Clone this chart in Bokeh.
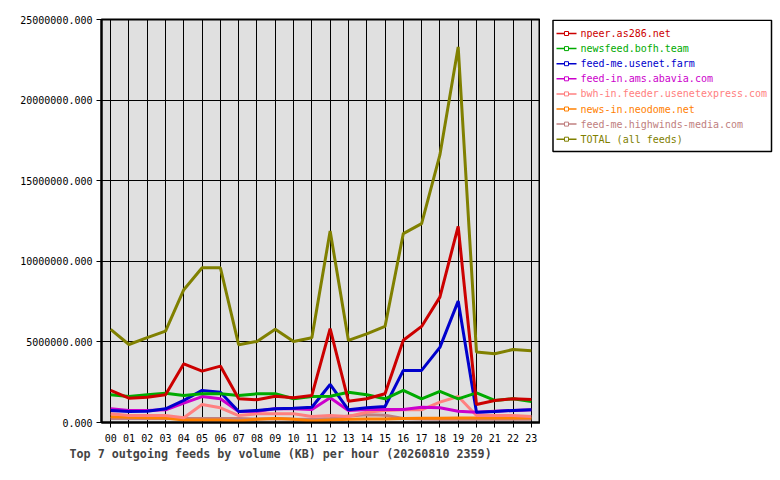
from bokeh.plotting import figure
from bokeh.layouts import row
from bokeh.models import Range1d, FixedTicker, PrintfTickFormatter, ColumnDataSource
from bokeh.core.properties import value
from bokeh.embed import file_html
from bokeh.resources import INLINE

hours = list(range(24))
hour_labels = ["%02d" % h for h in hours]

# values in KB per hour
npeer = [1.99e6, 1.51e6, 1.57e6, 1.72e6, 3.64e6, 3.19e6, 3.5e6, 1.47e6, 1.41e6, 1.63e6, 1.53e6, 1.68e6,
         5.82e6, 1.32e6, 1.47e6, 1.78e6, 5.1e6, 5.96e6, 7.78e6, 12.17e6, 1.12e6, 1.37e6, 1.47e6, 1.43e6]
newsfeed = [1.72e6, 1.61e6, 1.72e6, 1.82e6, 1.68e6, 1.78e6, 1.78e6, 1.68e6, 1.78e6, 1.78e6, 1.47e6, 1.61e6,
            1.63e6, 1.88e6, 1.72e6, 1.47e6, 1.99e6, 1.47e6, 1.93e6, 1.47e6, 1.84e6, 1.37e6, 1.47e6, 1.3e6]
usenet_farm = [0.75e6, 0.68e6, 0.7e6, 0.85e6, 1.37e6, 1.99e6, 1.88e6, 0.68e6, 0.75e6, 0.85e6, 0.89e6, 0.95e6,
               2.36e6, 0.79e6, 0.91e6, 0.99e6, 3.23e6, 3.23e6, 4.66e6, 7.53e6, 0.64e6, 0.68e6, 0.75e6, 0.79e6]
abavia = [0.85e6, 0.75e6, 0.75e6, 0.79e6, 1.2e6, 1.61e6, 1.47e6, 0.68e6, 0.7e6, 0.85e6, 0.85e6, 0.8e6,
          1.53e6, 0.75e6, 0.8e6, 0.8e6, 0.8e6, 0.95e6, 0.91e6, 0.7e6, 0.64e6, 0.7e6, 0.75e6, 0.79e6]
usenetexpress = [0.54e6, 0.43e6, 0.43e6, 0.43e6, 0.29e6, 1.12e6, 0.91e6, 0.43e6, 0.54e6, 0.54e6, 0.54e6, 0.37e6,
                 0.43e6, 0.37e6, 0.64e6, 0.75e6, 0.79e6, 0.79e6, 1.26e6, 1.61e6, 0.43e6, 0.43e6, 0.43e6, 0.37e6]
neodome = [0.35e6, 0.33e6, 0.3e6, 0.28e6, 0.15e6, 0.15e6, 0.15e6, 0.1e6, 0.2e6, 0.25e6, 0.2e6, 0.1e6,
           0.15e6, 0.2e6, 0.22e6, 0.22e6, 0.25e6, 0.27e6, 0.27e6, 0.28e6, 0.28e6, 0.28e6, 0.28e6, 0.28e6]
highwinds = [0.25e6, 0.25e6, 0.25e6, 0.25e6, 0.25e6, 0.25e6, 0.25e6, 0.25e6, 0.22e6, 0.25e6, 0.22e6, 0.2e6,
             0.25e6, 0.4e6, 0.48e6, 0.45e6, 0.25e6, 0.22e6, 0.2e6, 0.2e6, 0.22e6, 0.2e6, 0.2e6, 0.2e6]
total = [5.78e6, 4.84e6, 5.26e6, 5.67e6, 8.24e6, 9.6e6, 9.6e6, 4.82e6, 5.03e6, 5.78e6, 5.03e6, 5.26e6,
         11.88e6, 5.09e6, 5.5e6, 5.96e6, 11.72e6, 12.34e6, 16.6e6, 23.3e6, 4.37e6, 4.27e6, 4.53e6, 4.45e6]

feed_names = ["npeer.as286.net", "newsfeed.bofh.team", "feed-me.usenet.farm", "feed-in.ams.abavia.com",
              "bwh-in.feeder.usenetexpress.com", "news-in.neodome.net", "feed-me.highwinds-media.com",
              "TOTAL (all feeds)"]
feed_values = [npeer, newsfeed, usenet_farm, abavia, usenetexpress, neodome, highwinds, total]
feed_colors = ["#cc0000", "#00aa00", "#0000cc", "#cc00cc", "#ff8080", "#ff8000", "#c08080", "#808000"]

FONT = "DejaVu Sans Mono"
H = 472
TOP, BOTTOM = 19, 50

p = figure(width=540, height=H, output_backend="svg", toolbar_location=None,
           x_range=Range1d(-0.5, 23.5), y_range=Range1d(0, 25e6),
           min_border_left=101, min_border_right=0, min_border_top=TOP, min_border_bottom=BOTTOM)
p.background_fill_color = "#e0e0e0"
p.border_fill_color = "white"
p.outline_line_color = "black"
p.outline_line_width = 2

# draw order: smallest feeds first, total on top
draw_order = [6, 5, 4, 3, 2, 1, 0, 7]
for i in draw_order:
    p.line(hours, feed_values[i], line_color=feed_colors[i], line_width=3)

p.xaxis.ticker = FixedTicker(ticks=hours)
p.xaxis.major_label_overrides = {h: lbl for h, lbl in zip(hours, hour_labels)}
p.yaxis.ticker = FixedTicker(ticks=[0, 5e6, 10e6, 15e6, 20e6, 25e6])
p.yaxis.formatter = PrintfTickFormatter(format="%.3f")
for ax in (p.xaxis[0], p.yaxis[0]):
    ax.axis_line_color = "black"
    ax.axis_line_width = 2
    ax.major_tick_line_color = "black"
    ax.major_tick_in = 0
    ax.major_tick_out = 5
    ax.minor_tick_line_color = None
    ax.major_label_text_font = FONT
    ax.major_label_text_font_size = "10px"
    ax.major_label_text_color = "black"
    ax.major_label_standoff = 4
p.xaxis.major_label_standoff = 6
p.grid.grid_line_color = "black"
p.grid.grid_line_alpha = 1.0
p.grid.grid_line_width = 1

p.title.text = "Top 7 outgoing feeds by volume (KB) per hour (20260810 2359)"
p.title_location = "below"
p.title.align = "left"
p.title.offset = -32
p.title.text_font = FONT
p.title.text_font_size = "11.7px"
p.title.text_font_style = "bold"
p.title.standoff = 1

# legend panel, page pixel coordinates (y down); its frame lines up with the main frame
leg = figure(width=236, height=H, output_backend="svg", toolbar_location=None, title=None,
             x_axis_type=None, y_axis_type=None,
             x_range=Range1d(540, 776), y_range=Range1d(H - BOTTOM, TOP),
             min_border=0, min_border_left=0, min_border_right=0, min_border_top=TOP, min_border_bottom=BOTTOM)
leg.grid.visible = False
leg.outline_line_color = None
leg.background_fill_color = "white"
leg.border_fill_color = "white"
leg.quad(left=[552.5], right=[771], top=[19.8], bottom=[151], fill_color="white", line_color="black",
         line_width=1.5)

rows_y = [33 + 15.1 * k for k in range(len(feed_names))]
src = ColumnDataSource(dict(x0=[556] * 8, x1=[576] * 8, xm=[566] * 8, y=rows_y, tx=[580] * 8,
                            name=feed_names, color=feed_colors))
leg.segment(x0="x0", y0="y", x1="x1", y1="y", line_color="color", line_width=1.5, source=src)
leg.scatter(x="xm", y="y", marker="square", size=4, fill_color="white", line_color="color", source=src)
leg.text(x="tx", y="y", text="name", text_color="color", text_font=value(FONT), text_font_size="10px",
         text_baseline="middle", source=src)

layout = row(p, leg)
open("out.html", "w").write(file_html(layout, INLINE))
